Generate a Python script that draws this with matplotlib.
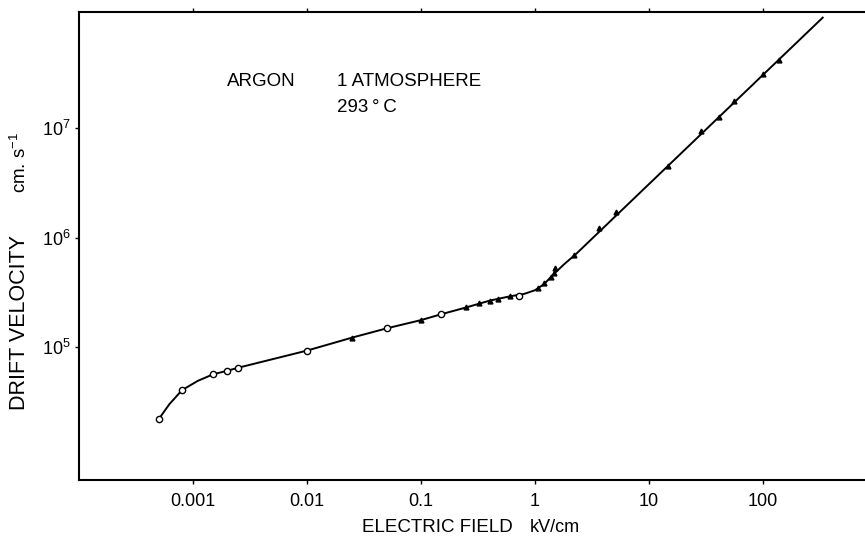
import matplotlib

matplotlib.use("Agg")
import matplotlib.pyplot as plt
from matplotlib.ticker import FixedLocator, NullLocator

plt.rcParams["font.family"] = ["Liberation Sans", "DejaVu Sans"]
plt.rcParams["mathtext.fontset"] = "custom"
plt.rcParams["mathtext.rm"] = "Liberation Sans"

# drift velocity of electrons in argon
open_field = [5e-4, 8e-4, 1.5e-3, 2e-3, 2.5e-3, 0.01, 0.05, 0.15, 0.73]
open_vel = [2.19e4, 4.03e4, 5.63e4, 6.07e4, 6.47e4, 9.27e4, 1.48e5, 1.99e5, 2.94e5]

fill_field = [0.025, 0.1, 0.25, 0.32, 0.40, 0.47, 0.60, 1.07, 1.21, 1.38, 1.48,
              1.5, 2.18, 3.66, 5.14, 14.6, 28.6, 41.4, 56, 101, 139]
fill_vel = [1.22e5, 1.76e5, 2.3e5, 2.5e5, 2.65e5, 2.74e5, 2.93e5, 3.44e5, 3.82e5,
            4.39e5, 4.71e5, 5.23e5, 6.87e5, 1.23e6, 1.72e6, 4.5e6, 9.45e6, 1.25e7,
            1.77e7, 3.11e7, 4.18e7]

# hand-drawn curve through the points
curve_field = [5e-4, 6.2e-4, 8e-4, 1.1e-3, 1.5e-3, 2e-3, 2.5e-3, 0.01, 0.025, 0.05,
               0.1, 0.15, 0.25, 0.4, 0.6, 0.8, 1.0, 1.2, 1.45, 1.8, 2.3, 334]
curve_vel = [2.19e4, 3.0e4, 4.03e4, 4.9e4, 5.63e4, 6.07e4, 6.47e4, 9.27e4, 1.22e5,
             1.48e5, 1.76e5, 1.99e5, 2.3e5, 2.65e5, 2.9e5, 3.05e5, 3.3e5, 3.75e5,
             4.6e5, 5.7e5, 7.1e5, 1.02e8]

xticks = [1e-3, 1e-2, 1e-1, 1, 10, 100]
xtick_labels = ["0.001", "0.01", "0.1", "1", "10", "100"]
yticks = [1e5, 1e6, 1e7]
ytick_labels = [r"$10^5$", r"$10^6$", r"$10^7$"]

fig = plt.figure(figsize=(8.65, 5.42), dpi=100)
ax = fig.add_axes([79 / 865, 62 / 542, 798 / 865, 468 / 542])
ax.set_xscale("log")
ax.set_yscale("log")
ax.set_xlim(1e-4, 1e3)
ax.set_ylim(10 ** 3.785, 10 ** 8.06)

ax.plot(curve_field, curve_vel, color="black", lw=1.4)
ax.plot(open_field, open_vel, "o", ms=4.5, mfc="white", mec="black", mew=1.0)
ax.plot(fill_field, fill_vel, "^", ms=3.5, color="black")

ax.xaxis.set_major_locator(FixedLocator(xticks))
ax.xaxis.set_minor_locator(NullLocator())
ax.set_xticklabels(xtick_labels)
ax.yaxis.set_major_locator(FixedLocator(yticks))
ax.yaxis.set_minor_locator(NullLocator())
ax.set_yticklabels(ytick_labels)
ax.tick_params(axis="both", direction="out", length=3, width=1, labelsize=13,
               top=True)
ax.tick_params(axis="x", pad=6)
ax.tick_params(axis="y", pad=3)
for sp in ax.spines.values():
    sp.set_linewidth(1.5)

ts = "\u2009"
fig.text(362 / 865, 1 - 527 / 542, "ELECTRIC FIELD", fontsize=13.5,
         ha="left", va="center")
fig.text(530 / 865, 1 - 527 / 542, "kV/cm", fontsize=13, ha="left", va="center")
fig.text(20 / 865, 1 - 322 / 542, "DRIFT VELOCITY", fontsize=15.5, rotation=90,
         ha="center", va="center")
fig.text(20 / 865, 1 - 162 / 542, "cm. s$^{-1}$", fontsize=13.5,
         rotation=90, ha="center", va="center")

fig.text(227 / 865, 1 - 82 / 542, "ARGON", fontsize=13.5, va="center")
fig.text(337 / 865, 1 - 82 / 542, "1 ATMOSPHERE", fontsize=13.5, va="center")
fig.text(337 / 865, 1 - 108 / 542, "293" + ts + "\u00b0" + ts + "C", fontsize=13.5,
         va="center")

fig.savefig("out.png", dpi=100)
